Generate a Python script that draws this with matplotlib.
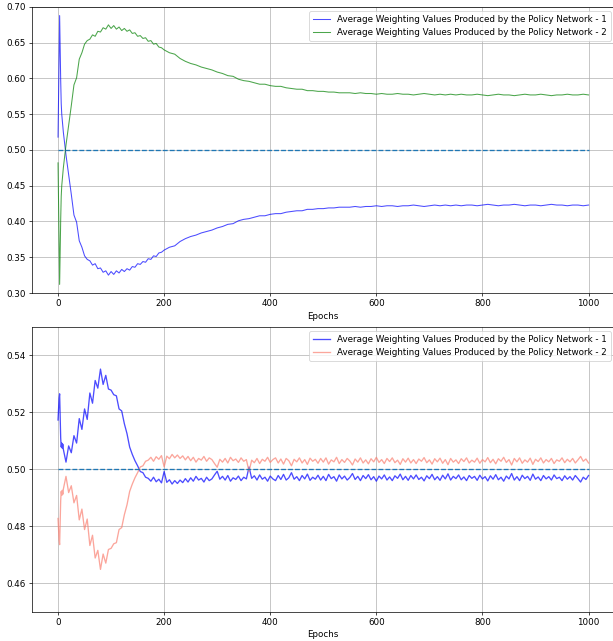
import numpy as np
import matplotlib
matplotlib.use("Agg")
import matplotlib.pyplot as plt


# ── Data ────────────────────────────────────────────────────────────────────

label_1 = "Average Weighting Values Produced by the Policy Network - 1"
label_2 = "Average Weighting Values Produced by the Policy Network - 2"

# top panel: first epochs one by one, then every 5, then every 10
epochs_top = np.concatenate([np.arange(0, 10), np.arange(10, 200, 5),
                             np.arange(200, 1001, 10)])

w1_top = [
    0.518, 0.575, 0.635, 0.688, 0.640, 0.598, 0.565, 0.550, 0.542, 0.533,
    0.525, 0.493, 0.466, 0.438, 0.409, 0.399, 0.373, 0.364, 0.352, 0.347,
    0.345, 0.339, 0.341, 0.334, 0.335, 0.329, 0.331, 0.325, 0.330, 0.326,
    0.331, 0.328, 0.333, 0.330, 0.334, 0.332, 0.337, 0.336, 0.341, 0.340,
    0.344, 0.343, 0.348, 0.347, 0.352, 0.351, 0.356, 0.357,
    0.360, 0.364, 0.366, 0.372, 0.376, 0.379, 0.381, 0.384, 0.386, 0.388,
    0.391, 0.393, 0.396, 0.397, 0.401, 0.403, 0.404, 0.406, 0.408, 0.408,
    0.410, 0.411, 0.411, 0.413, 0.414, 0.415, 0.415, 0.417, 0.417, 0.418,
    0.418, 0.419, 0.419, 0.420, 0.420, 0.420, 0.421, 0.420, 0.421, 0.421,
    0.422, 0.421, 0.422, 0.422, 0.421, 0.422, 0.422, 0.423, 0.422, 0.421,
    0.422, 0.423, 0.422, 0.423, 0.422, 0.423, 0.422, 0.423, 0.423, 0.422,
    0.423, 0.424, 0.423, 0.422, 0.423, 0.423, 0.424, 0.423, 0.422, 0.423,
    0.423, 0.422, 0.423, 0.424, 0.423, 0.423, 0.422, 0.423, 0.423, 0.422,
    0.423,
]

w2_top = [
    0.482, 0.425, 0.365, 0.312, 0.360, 0.402, 0.435, 0.450, 0.458, 0.467,
    0.475, 0.507, 0.534, 0.562, 0.591, 0.601, 0.627, 0.636, 0.648, 0.653,
    0.655, 0.661, 0.659, 0.666, 0.665, 0.671, 0.669, 0.675, 0.670, 0.674,
    0.669, 0.672, 0.667, 0.670, 0.666, 0.668, 0.663, 0.664, 0.659, 0.660,
    0.656, 0.657, 0.652, 0.653, 0.648, 0.649, 0.644, 0.643,
    0.640, 0.636, 0.634, 0.628, 0.624, 0.621, 0.619, 0.616, 0.614, 0.612,
    0.609, 0.607, 0.604, 0.603, 0.599, 0.597, 0.596, 0.594, 0.592, 0.592,
    0.590, 0.589, 0.589, 0.587, 0.586, 0.585, 0.585, 0.583, 0.583, 0.582,
    0.582, 0.581, 0.581, 0.580, 0.580, 0.580, 0.579, 0.580, 0.579, 0.579,
    0.578, 0.579, 0.578, 0.578, 0.579, 0.578, 0.578, 0.577, 0.578, 0.579,
    0.578, 0.577, 0.578, 0.577, 0.578, 0.577, 0.578, 0.577, 0.577, 0.578,
    0.577, 0.576, 0.577, 0.578, 0.577, 0.577, 0.576, 0.577, 0.578, 0.577,
    0.577, 0.578, 0.577, 0.576, 0.577, 0.577, 0.578, 0.577, 0.577, 0.578,
    0.577,
]

# bottom panel: first epochs one by one, then every 5
epochs_bot = np.concatenate([np.arange(0, 10), np.arange(10, 1001, 5)])

w1_bot = [
    0.5173, 0.5215, 0.5250, 0.5265, 0.5190, 0.5110, 0.5078, 0.5092, 0.5074, 0.5088,
    0.5070, 0.5025, 0.5082, 0.5058, 0.5118, 0.5092, 0.5178, 0.5140, 0.5212, 0.5175,
    0.5268, 0.5232, 0.5312, 0.5285, 0.5352, 0.5298, 0.5330, 0.5282, 0.5278, 0.5262,
    0.5258, 0.5212, 0.5205, 0.5160, 0.5125, 0.5078, 0.5052, 0.5030, 0.5012, 0.4992,
    0.4988, 0.4972, 0.4968, 0.4958, 0.4972, 0.4956, 0.4965, 0.4952, 0.4992, 0.4954,
    0.4963, 0.4948, 0.4960, 0.4950, 0.4962, 0.4953, 0.4967, 0.4955, 0.4970, 0.4958,
    0.4975, 0.4962, 0.4968, 0.4955, 0.4972, 0.4960, 0.4966, 0.4980, 0.4993, 0.4965,
    0.4975, 0.4962, 0.4978, 0.4958, 0.4970, 0.4964, 0.4976, 0.4960, 0.4972, 0.4966,
    0.5008, 0.4968, 0.4977, 0.4962, 0.4980, 0.4965, 0.4972, 0.4958, 0.4976, 0.4966,
    0.4960, 0.4978, 0.4964, 0.4982, 0.4962, 0.4970, 0.4988, 0.4965, 0.4974, 0.4960,
    0.4978, 0.4966, 0.4983, 0.4961, 0.4972, 0.4965, 0.4979, 0.4962, 0.4975, 0.4960,
    0.4982, 0.4967, 0.4974, 0.4958, 0.4980, 0.4966, 0.4976, 0.4962, 0.4971, 0.4985,
    0.4964, 0.4975, 0.4960, 0.4978, 0.4967, 0.4981, 0.4963, 0.4974, 0.4958, 0.4976,
    0.4966, 0.4980, 0.4962, 0.4973, 0.4960, 0.4977, 0.4968, 0.4983, 0.4963, 0.4975,
    0.4961, 0.4978, 0.4966, 0.4980, 0.4964, 0.4972, 0.4959, 0.4977, 0.4967, 0.4982,
    0.4963, 0.4974, 0.4961, 0.4979, 0.4966, 0.4984, 0.4962, 0.4975, 0.4967, 0.4980,
    0.4963, 0.4973, 0.4960, 0.4978, 0.4968, 0.4975, 0.4961, 0.4979, 0.4966, 0.4974,
    0.4959, 0.4977, 0.4965, 0.4981, 0.4963, 0.4972, 0.4958, 0.4976, 0.4966, 0.4985,
    0.4962, 0.4974, 0.4960, 0.4979, 0.4967, 0.4975, 0.4961, 0.4983, 0.4965, 0.4973,
    0.4960, 0.4978, 0.4966, 0.4974, 0.4962, 0.4980, 0.4967, 0.4972, 0.4960, 0.4977,
    0.4965, 0.4974, 0.4962, 0.4978, 0.4967, 0.4955, 0.4972, 0.4964, 0.4978,
]

w2_bot = [
    0.4827, 0.4785, 0.4750, 0.4735, 0.4810, 0.4890, 0.4922, 0.4908, 0.4926, 0.4912,
    0.4930, 0.4975, 0.4918, 0.4942, 0.4882, 0.4908, 0.4822, 0.4860, 0.4788, 0.4825,
    0.4732, 0.4768, 0.4688, 0.4715, 0.4648, 0.4702, 0.4670, 0.4718, 0.4722, 0.4738,
    0.4742, 0.4788, 0.4795, 0.4840, 0.4875, 0.4922, 0.4948, 0.4970, 0.4988, 0.5008,
    0.5012, 0.5028, 0.5032, 0.5042, 0.5028, 0.5044, 0.5035, 0.5048, 0.5008, 0.5046,
    0.5037, 0.5052, 0.5040, 0.5050, 0.5038, 0.5047, 0.5033, 0.5045, 0.5030, 0.5042,
    0.5025, 0.5038, 0.5032, 0.5045, 0.5028, 0.5040, 0.5034, 0.5020, 0.5007, 0.5035,
    0.5025, 0.5038, 0.5022, 0.5042, 0.5030, 0.5036, 0.5024, 0.5040, 0.5028, 0.5034,
    0.4992, 0.5032, 0.5023, 0.5038, 0.5020, 0.5035, 0.5028, 0.5042, 0.5024, 0.5034,
    0.5040, 0.5022, 0.5036, 0.5018, 0.5038, 0.5030, 0.5012, 0.5035, 0.5026, 0.5040,
    0.5022, 0.5034, 0.5017, 0.5039, 0.5028, 0.5035, 0.5021, 0.5038, 0.5025, 0.5040,
    0.5018, 0.5033, 0.5026, 0.5042, 0.5020, 0.5034, 0.5024, 0.5038, 0.5029, 0.5015,
    0.5036, 0.5025, 0.5040, 0.5022, 0.5033, 0.5019, 0.5037, 0.5026, 0.5042, 0.5024,
    0.5034, 0.5020, 0.5038, 0.5027, 0.5040, 0.5023, 0.5032, 0.5017, 0.5037, 0.5025,
    0.5039, 0.5022, 0.5034, 0.5020, 0.5036, 0.5028, 0.5041, 0.5023, 0.5033, 0.5018,
    0.5037, 0.5026, 0.5039, 0.5021, 0.5034, 0.5016, 0.5038, 0.5025, 0.5033, 0.5020,
    0.5037, 0.5027, 0.5040, 0.5022, 0.5032, 0.5025, 0.5039, 0.5021, 0.5034, 0.5026,
    0.5041, 0.5023, 0.5035, 0.5019, 0.5037, 0.5028, 0.5042, 0.5024, 0.5034, 0.5015,
    0.5038, 0.5026, 0.5040, 0.5021, 0.5033, 0.5025, 0.5039, 0.5017, 0.5035, 0.5027,
    0.5040, 0.5022, 0.5034, 0.5026, 0.5038, 0.5020, 0.5033, 0.5028, 0.5040, 0.5023,
    0.5035, 0.5026, 0.5038, 0.5022, 0.5033, 0.5045, 0.5028, 0.5036, 0.5022,
]

baseline = 0.5

for name, arr, ep in [("w1_top", w1_top, epochs_top), ("w2_top", w2_top, epochs_top),
                      ("w1_bot", w1_bot, epochs_bot), ("w2_bot", w2_bot, epochs_bot)]:
    assert len(arr) == len(ep), f"{name}: {len(arr)} values vs {len(ep)} epochs"


# ── Plot ─────────────────────────────────────────────────────────────────────

fig = plt.figure(figsize=(613 / 63, 641 / 63), dpi=63)
ax_top = fig.add_axes([0.0514, 0.5429, 0.952, 0.4462])
ax_bot = fig.add_axes([0.0514, 0.0460, 0.952, 0.4439])

# Panel 1
ax = ax_top
ax.plot(epochs_top, w1_top, color="blue", alpha=0.7, linewidth=1.2, label=label_1)
ax.plot(epochs_top, w2_top, color="green", alpha=0.7, linewidth=1.2, label=label_2)
ax.hlines(baseline, epochs_top[0], epochs_top[-1], colors="C0", linestyles="--",
          linewidth=1.5)
ax.set_ylim(0.30, 0.70)
ax.set_yticks(np.arange(0.30, 0.701, 0.05))
ax.set_xlabel("Epochs")
ax.legend(loc="upper right")
ax.grid(True)

# Panel 2
ax = ax_bot
ax.plot(epochs_bot, w1_bot, color="blue", alpha=0.7, linewidth=1.5, label=label_1)
ax.plot(epochs_bot, w2_bot, color="salmon", alpha=0.7, linewidth=1.5, label=label_2)
ax.hlines(baseline, epochs_bot[0], epochs_bot[-1], colors="C0", linestyles="--",
          linewidth=1.5)
ax.set_ylim(0.45, 0.55)
ax.set_yticks([0.46, 0.48, 0.50, 0.52, 0.54])
ax.set_xlabel("Epochs")
ax.legend(loc="upper right")
ax.grid(True)

for ax in (ax_top, ax_bot):
    ax.set_xticks([0, 200, 400, 600, 800, 1000])

fig.savefig("out.png", dpi=63)
